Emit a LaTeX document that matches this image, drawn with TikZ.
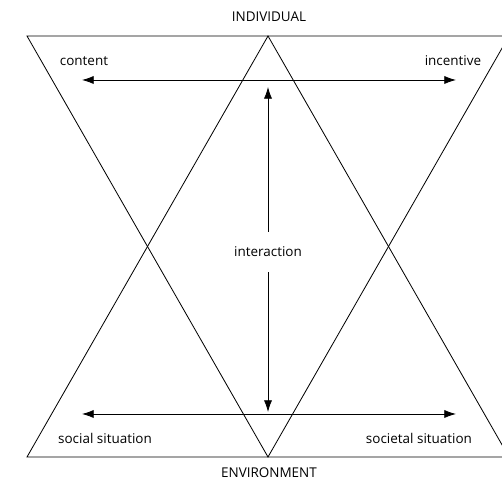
\documentclass[tikz,border=0pt]{standalone}
\usepackage{fontspec}
\setmainfont{Open Sans}
\usepackage{tikz}
\usetikzlibrary{arrows.meta}

\tikzset{
  edge/.style={line width=0.7pt},
  flow/.style={line width=0.7pt, -{Latex[length=10pt,width=7pt]}},
  twoway/.style={line width=0.7pt, {Latex[length=10pt,width=7pt]}-{Latex[length=10pt,width=7pt]}},
  lbl/.style={font=\fontsize{11.5}{13}\selectfont, inner sep=1pt},
}

\begin{document}
\begin{tikzpicture}[x=0.03cm, y=0.03cm]
\useasboundingbox (0,0) rectangle (502,483);

% Corners of the two crossing triangles
\coordinate (tl) at (27,447);
\coordinate (tr) at (509,447);
\coordinate (bl) at (27,26);
\coordinate (br) at (509,26);
\coordinate (top) at (268,447);
\coordinate (bot) at (268,26);

\draw[edge] (tl) -- (tr) -- (bot) -- cycle;
\draw[edge] (bl) -- (br) -- (top) -- cycle;

% Labels
\node[lbl] (indiv) at (269,466) {INDIVIDUAL};
\node[lbl] (env) at (269,10) {ENVIRONMENT};
\node[lbl] (content) at (84,422) {content};
\node[lbl] (incent) at (453,422) {incentive};
\node[lbl] (social) at (105,45) {social situation};
\node[lbl] (societal) at (419,45) {societal situation};
\node[lbl, minimum height=1.2cm] (inter) at (268,231) {interaction};

% Arrow ends
\coordinate (ul) at (82,403);
\coordinate (ur) at (456,403);
\coordinate (ll) at (82,69);
\coordinate (lr) at (456,69);
\coordinate (vt) at (268,396);
\coordinate (vb) at (268,71);

% Arrows
\draw[twoway] (ul) -- (ur);
\draw[twoway] (ll) -- (lr);
\draw[flow] (inter) -- (vt);
\draw[flow] (inter) -- (vb);

\end{tikzpicture}
\end{document}
